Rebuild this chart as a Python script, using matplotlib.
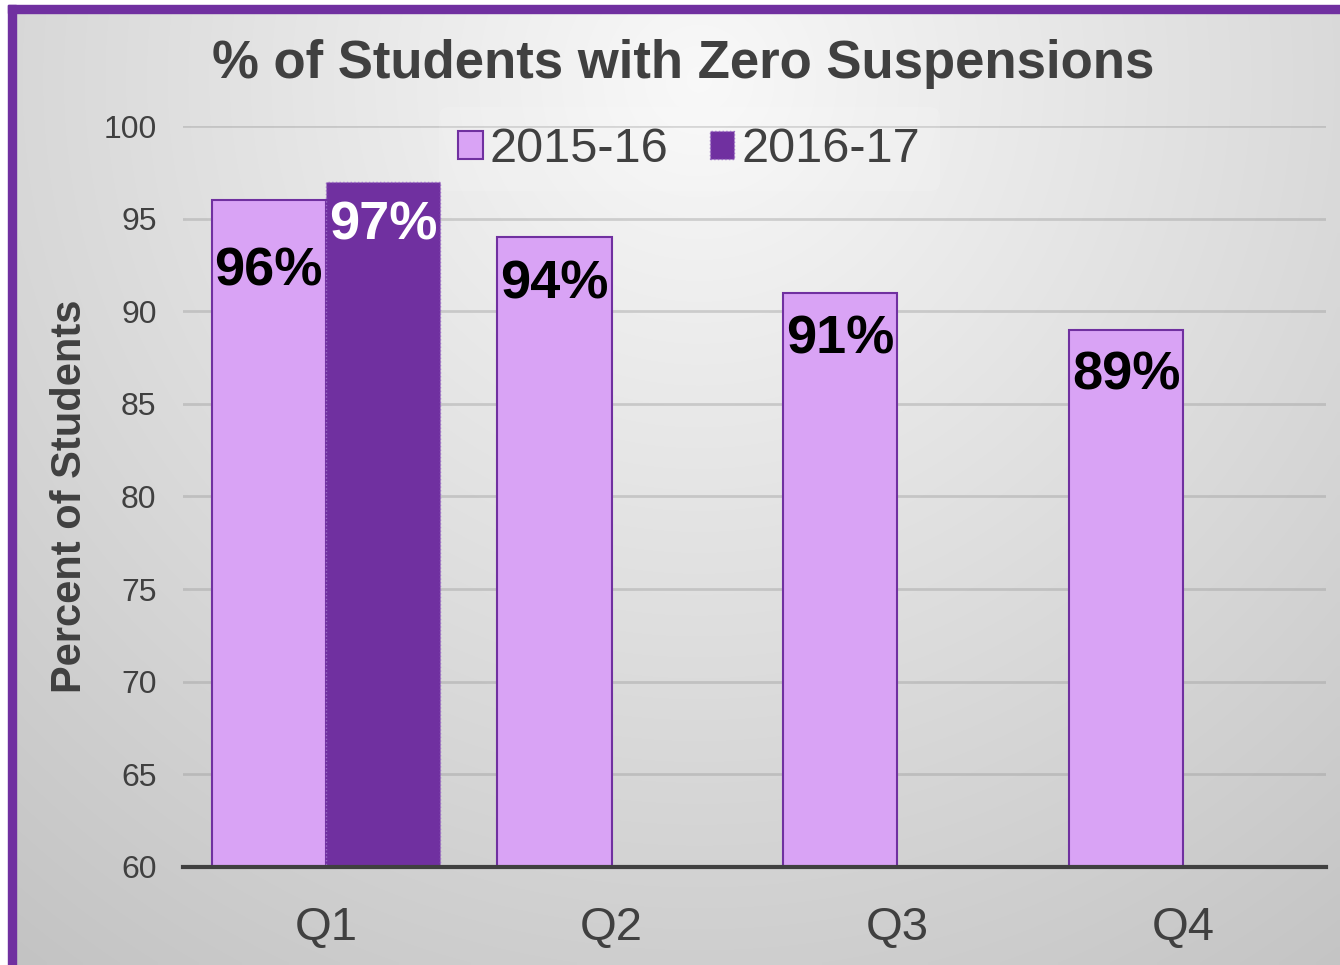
import matplotlib.pyplot as plt
import numpy as np
from matplotlib.patches import Rectangle

plt.rcParams['font.family'] = ['Liberation Sans', 'DejaVu Sans']

quarters = ['Q1', 'Q2', 'Q3', 'Q4']
series_names = ['2015-16', '2016-17']
pct_2015 = [96, 94, 91, 89]
pct_2016 = [97, None, None, None]

LIGHT = '#d9a3f5'
DARK = '#7030a0'
TEXT = '#404040'

fig = plt.figure(figsize=(13.4, 9.65), dpi=100)

# background gradient (light near top centre, greyer towards the edges)
bg = fig.add_axes([0, 0, 1, 1], zorder=-10)
h, w = 193, 268
yy, xx = np.mgrid[0:h, 0:w]
dx = (xx / w - 0.52) / 0.75
dy = (yy / h - 0.08) / 1.05
r = np.sqrt(dx ** 2 + dy ** 2)
shade = 0.975 - 0.19 * np.clip(r, 0, 1.15)
bg.imshow(np.dstack([shade] * 3), aspect='auto', extent=[0, 1, 0, 1],
          interpolation='bilinear', origin='upper')
bg.set_xlim(0, 1)
bg.set_ylim(0, 1)
bg.axis('off')

# purple frame on top and left, white margin outside it
W, H = 1340, 965
fig.patches.append(Rectangle((0, (H - 5) / H), 1, 5 / H, transform=fig.transFigure,
                             color='white', zorder=-5))
fig.patches.append(Rectangle((0, 0), 8 / W, 1, transform=fig.transFigure,
                             color='white', zorder=-5))
fig.patches.append(Rectangle((8 / W, (H - 13) / H), 1, 8 / H, transform=fig.transFigure,
                             color=DARK, zorder=-4))
fig.patches.append(Rectangle((8 / W, 0), 8 / W, (H - 5) / H, transform=fig.transFigure,
                             color=DARK, zorder=-4))

ax = fig.add_axes([183 / W, (H - 867) / H, (1326 - 183) / W, (867 - 126) / H])
ax.patch.set_alpha(0)

x = np.arange(len(quarters))
bw = 0.4
b1 = ax.bar(x - bw / 2, pct_2015, bw, color=LIGHT, edgecolor=DARK, linewidth=1.5,
            label=series_names[0], zorder=3)
x2 = [i for i, v in enumerate(pct_2016) if v is not None]
v2 = [v for v in pct_2016 if v is not None]
b2 = ax.bar(np.array(x2) + bw / 2, v2, bw, color=DARK, edgecolor='#9a6cc4',
            linewidth=1, linestyle=':', label=series_names[1], zorder=3)

# data labels
offs = [-71, -47, -47, -46]
for i, v in enumerate(pct_2015):
    ax.annotate(f'{v}%', (x[i] - bw / 2, v), xytext=(0, offs[i] * 0.72),
                textcoords='offset points', ha='center', va='center',
                fontsize=39, fontweight='bold', color='black', zorder=5)
for i, v in zip(x2, v2):
    ax.annotate(f'{v}%', (i + bw / 2, v), xytext=(0, -44 * 0.72),
                textcoords='offset points', ha='center', va='center',
                fontsize=39, fontweight='bold', color='white', zorder=5)

ax.set_ylim(60, 100)
ax.set_xlim(-0.5, 3.5)
ax.set_yticks(range(60, 101, 5))
ax.set_xticks(x)
ax.set_xticklabels(quarters)
ax.tick_params(axis='y', length=0, labelsize=23, labelcolor=TEXT, pad=19)
ax.tick_params(axis='x', length=0, labelsize=34, labelcolor=TEXT, pad=28)
ax.yaxis.grid(True, color='#9a9a9a', alpha=0.4, linewidth=2, zorder=0)
ax.set_axisbelow(True)
for s in ['top', 'right', 'left']:
    ax.spines[s].set_visible(False)
ax.spines['bottom'].set_color(TEXT)
ax.spines['bottom'].set_linewidth(3)
ax.spines['bottom'].set_zorder(6)

ax.set_ylabel('Percent of Students', fontsize=30, fontweight='bold', color=TEXT)
ax.yaxis.set_label_coords(-0.081, 0.5)

fig.text(683 / W, 1 - 64 / H, '% of Students with Zero Suspensions', ha='center',
         va='center', fontsize=38, fontweight='bold', color=TEXT)

leg = ax.legend(loc='upper center', bbox_to_anchor=(0.443, 1.025), ncol=2,
                fontsize=35, frameon=True, handlelength=0.5, handleheight=0.5,
                handletextpad=0.15, columnspacing=0.85, borderaxespad=0)
leg.get_frame().set_facecolor('white')
leg.get_frame().set_alpha(0.12)
leg.get_frame().set_edgecolor('none')
leg.set_zorder(2)
for t in leg.get_texts():
    t.set_color(TEXT)

fig.savefig('out.png', dpi=100)
